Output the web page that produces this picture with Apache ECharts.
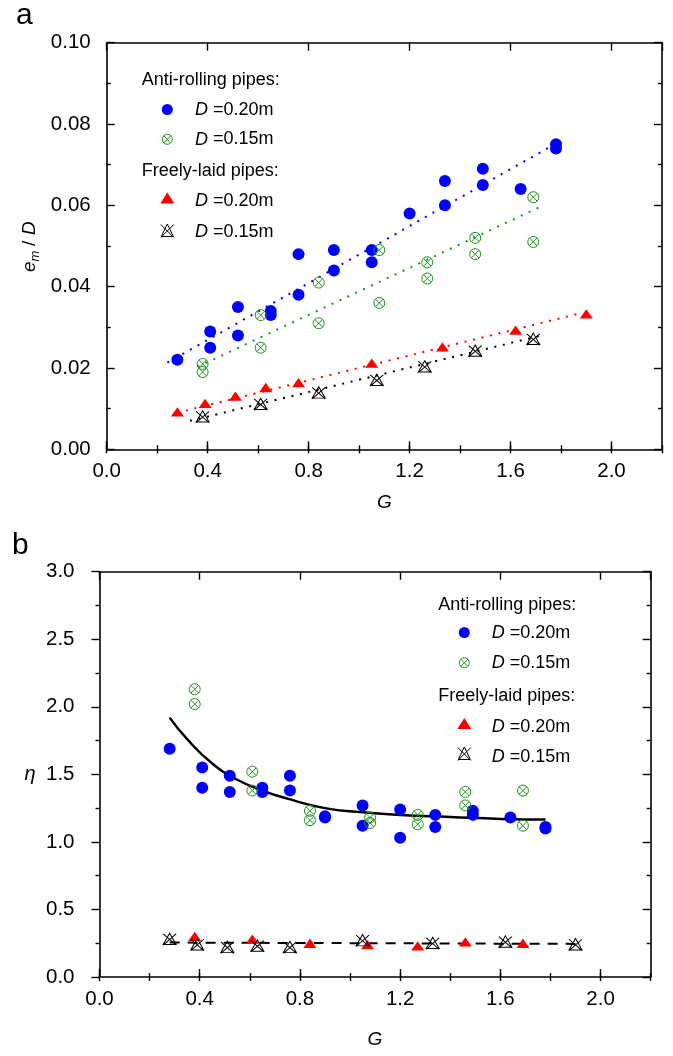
<!DOCTYPE html>
<html><head><meta charset="utf-8">
<script src="https://cdn.jsdelivr.net/npm/echarts@6/dist/echarts.min.js"></script>
<style>html,body{margin:0;padding:0;background:#fff}#c{width:673px;height:1056px}</style>
</head><body><div id="c"></div>
<script>
// ---------- DATA ----------
// Panel a: e_m / D versus G
const aAntiD20 = [[0.28,0.022],[0.41,0.029],[0.41,0.025],[0.52,0.035],[0.52,0.028],[0.65,0.034],[0.65,0.033],[0.76,0.048],[0.76,0.038],[0.90,0.049],[0.90,0.044],[1.05,0.049],[1.05,0.046],[1.20,0.058],[1.34,0.066],[1.34,0.060],[1.49,0.069],[1.49,0.065],[1.64,0.064],[1.78,0.075],[1.78,0.074]];
const aAntiD15 = [[0.38,0.021],[0.38,0.019],[0.61,0.033],[0.61,0.025],[0.84,0.041],[0.84,0.031],[1.08,0.049],[1.08,0.036],[1.27,0.046],[1.27,0.042],[1.46,0.052],[1.46,0.048],[1.69,0.062],[1.69,0.051]];
const aFreeD20 = [[0.28,0.0092],[0.39,0.0113],[0.51,0.0131],[0.63,0.0152],[0.76,0.0164],[1.05,0.0212],[1.33,0.0252],[1.62,0.0293],[1.90,0.0333]];
const aFreeD15 = [[0.38,0.0080],[0.61,0.0111],[0.84,0.0139],[1.07,0.0170],[1.26,0.0203],[1.46,0.0242],[1.69,0.0271]];
const aFitAntiD20 = [[0.24,0.0213],[1.78,0.0752]];
const aFitAntiD15 = [[0.36,0.0203],[1.72,0.0597]];
const aFitFreeD20 = [[0.28,0.0090],[1.88,0.0335]];
const aFitFreeD15 = [[0.33,0.0070],[1.73,0.0281]];
// Panel b: eta versus G
const bAntiD20 = [[0.28,1.69],[0.41,1.55],[0.41,1.40],[0.52,1.49],[0.52,1.37],[0.65,1.40],[0.65,1.37],[0.76,1.49],[0.76,1.38],[0.90,1.19],[0.90,1.18],[1.05,1.27],[1.05,1.12],[1.20,1.24],[1.20,1.03],[1.34,1.20],[1.34,1.11],[1.49,1.23],[1.49,1.20],[1.64,1.18],[1.78,1.11],[1.78,1.10]];
const bAntiD15 = [[0.38,2.13],[0.38,2.02],[0.61,1.52],[0.61,1.38],[0.84,1.23],[0.84,1.16],[1.08,1.18],[1.08,1.14],[1.27,1.20],[1.27,1.13],[1.46,1.37],[1.46,1.27],[1.69,1.38],[1.69,1.12]];
const bFreeD20 = [[0.38,0.30],[0.61,0.28],[0.84,0.25],[1.07,0.24],[1.27,0.23],[1.46,0.26],[1.69,0.25]];
const bFreeD15 = [[0.28,0.28],[0.39,0.24],[0.51,0.22],[0.63,0.23],[0.76,0.22],[1.05,0.27],[1.33,0.25],[1.62,0.26],[1.90,0.24]];
const bFitAnti = [[0.28,1.92],[0.35,1.76],[0.45,1.58],[0.55,1.46],[0.65,1.38],[0.75,1.32],[0.90,1.25],[1.05,1.22],[1.20,1.20],[1.40,1.185],[1.60,1.17],[1.78,1.165]];
const bFitFree = [[0.28,0.255],[1.90,0.245]];
// Tick labels
const xTickLabels = ['0.0','0.4','0.8','1.2','1.6','2.0'];
const aYTickLabels = ['0.00','0.02','0.04','0.06','0.08','0.10'];
const bYTickLabels = ['0.0','0.5','1.0','1.5','2.0','2.5','3.0'];
// Legend texts
const groupTitles = ['Anti-rolling pipes:', 'Freely-laid pipes:'];
const sizeLabels = ['0.20m', '0.15m'];

// ---------- STYLE ----------
const FONT = '"Liberation Sans", Arial, sans-serif';
const BLUE = '#0000ff', GREEN = '#1b931b', RED = '#ff0000', BLACK = '#000000';
const crossCircle = 'path://M10,0A10,10,0,1,1,10,20A10,10,0,1,1,10,0ZM2.93,2.93L17.07,17.07M17.07,2.93L2.93,17.07';
const crossTri = 'path://M10,1L19,18L1,18ZM1,2L19,19M19,2L1,19';
const tri = 'path://M6.5,0L13,11L0,11Z';

const chart = echarts.init(document.getElementById('c'), null, {renderer: 'canvas'});

const G0 = {left: 106.7, top: 42.7, width: 555.3, height: 406.6};
const G1 = {left: 99.5, top: 571.7, width: 551.2, height: 405.3};

function xAxisSet(gridIndex, ticksInside, showLabels) {
  const base = {type: 'value', gridIndex, min: 0, max: 2.2, splitLine: {show: false}, axisLine: {onZero: false, lineStyle: {color: BLACK, width: 1.6}}};
  const lbl = {show: showLabels, fontSize: 20.5, fontFamily: FONT, color: BLACK, margin: 12,
    formatter: v => { const s = v.toFixed(1); return xTickLabels.indexOf(s) >= 0 ? s : ''; }, showMaxLabel: false};
  return [
    Object.assign({}, base, {position: 'bottom', interval: 0.4, axisTick: {inside: ticksInside, length: 8, lineStyle: {color: BLACK, width: 1.4}}, axisLabel: lbl}),
    Object.assign({}, base, {position: 'bottom', interval: 0.2, axisLine: {show: false}, axisTick: {inside: ticksInside, length: 4, lineStyle: {color: BLACK, width: 1.4}}, axisLabel: {show: false}}),
    Object.assign({}, base, {position: 'top', interval: 0.4, axisTick: {inside: ticksInside, length: 8, lineStyle: {color: BLACK, width: 1.4}}, axisLabel: {show: false}}),
    Object.assign({}, base, {position: 'top', interval: 0.2, axisLine: {show: false}, axisTick: {inside: ticksInside, length: 4, lineStyle: {color: BLACK, width: 1.4}}, axisLabel: {show: false}})
  ];
}
function yAxisSet(gridIndex, min, max, interval, labels, digits, leftInside, margin) {
  const base = {type: 'value', gridIndex, min, max, interval, splitLine: {show: false}, axisLine: {show: true, onZero: false, lineStyle: {color: BLACK, width: 1.6}}};
  return [
    Object.assign({}, base, {position: 'left', axisTick: {inside: leftInside, length: 8, lineStyle: {color: BLACK, width: 1.4}},
      minorTick: {show: true, splitNumber: 2, length: 4, lineStyle: {color: BLACK, width: 1.4}},
      axisLabel: {fontSize: 20.5, fontFamily: FONT, color: BLACK, margin, formatter: v => { const s = v.toFixed(digits); return labels.indexOf(s) >= 0 ? s : ''; }}}),
    Object.assign({}, base, {position: 'right', axisTick: {inside: true, length: 8, lineStyle: {color: BLACK, width: 1.4}},
      minorTick: {show: true, splitNumber: 2, length: 4, lineStyle: {color: BLACK, width: 1.4}}, axisLabel: {show: false}})
  ];
}
const xAxes = xAxisSet(0, true, true).concat(xAxisSet(1, true, true));
const yAxes = yAxisSet(0, 0, 0.1, 0.02, aYTickLabels, 2, true, 16).concat(yAxisSet(1, 0, 3, 0.5, bYTickLabels, 1, false, 25));

function scatter(name, data, xi, yi, symbol, size, color, stroke) {
  return {name, type: 'scatter', data, xAxisIndex: xi, yAxisIndex: yi, symbol, symbolSize: size, symbolKeepAspect: true, z: 5,
    itemStyle: stroke ? {color: 'rgba(0,0,0,0)', borderColor: color, borderWidth: 1, opacity: 1} : {color, opacity: 1},
    emphasis: {disabled: true}};
}
function line(data, xi, yi, color, type, width, smooth) {
  return {type: 'line', data, xAxisIndex: xi, yAxisIndex: yi, showSymbol: false, symbol: 'none', smooth: smooth || false, z: 3,
    lineStyle: {color, type, width, cap: 'butt'}, emphasis: {disabled: true}, silent: true};
}

const series = [
  line(aFitAntiD20, 0, 0, BLUE, [2, 6.7], 2),
  line(aFitAntiD15, 0, 0, GREEN, [2, 6.7], 2),
  line(aFitFreeD20, 0, 0, RED, [2, 6.7], 2),
  line(aFitFreeD15, 0, 0, BLACK, [2, 6.7], 2),
  scatter('aA20', aAntiD20, 0, 0, 'circle', 12, BLUE, false),
  scatter('aA15', aAntiD15, 0, 0, crossCircle, 11, GREEN, true),
  scatter('aF20', aFreeD20, 0, 0, tri, [13, 11], RED, false),
  scatter('aF15', aFreeD15, 0, 0, crossTri, [13, 12], BLACK, true),
  line(bFitAnti, 4, 2, BLACK, 'solid', 2.5, 0.5),
  line(bFitFree, 4, 2, BLACK, [10, 8], 2),
  scatter('bA20', bAntiD20, 4, 2, 'circle', 12, BLUE, false),
  scatter('bA15', bAntiD15, 4, 2, crossCircle, 11, GREEN, true),
  scatter('bF20', bFreeD20, 4, 2, tri, [13, 11], RED, false),
  scatter('bF15', bFreeD15, 4, 2, crossTri, [13, 12], BLACK, true)
];

// ---------- legend (drawn as graphic elements) ----------
function txt(x, y, text, font, align) {
  return {type: 'text', x, y, silent: true, style: {text, font, fill: BLACK, align: align || 'left', verticalAlign: 'middle'}};
}
function richTxt(x, y, text) {
  return {type: 'text', x, y, silent: true, style: {text, font: '18px ' + FONT, fill: BLACK, align: 'left', verticalAlign: 'middle',
    rich: {i: {fontStyle: 'italic', fontSize: 18, fontFamily: FONT, fill: BLACK}}}};
}
function iconCircle(cx, cy) { return {type: 'circle', silent: true, shape: {cx, cy, r: 5.5}, style: {fill: BLUE}}; }
function iconCrossCircle(cx, cy) {
  const d = 3.6;
  return {type: 'group', silent: true, children: [
    {type: 'circle', shape: {cx, cy, r: 5}, style: {fill: 'none', stroke: GREEN, lineWidth: 1}},
    {type: 'line', shape: {x1: cx - d, y1: cy - d, x2: cx + d, y2: cy + d}, style: {stroke: GREEN, lineWidth: 1}},
    {type: 'line', shape: {x1: cx + d, y1: cy - d, x2: cx - d, y2: cy + d}, style: {stroke: GREEN, lineWidth: 1}}]};
}
function iconTri(cx, cy) { return {type: 'polygon', silent: true, shape: {points: [[cx - 7, cy + 5.5], [cx, cy - 5.5], [cx + 7, cy + 5.5]]}, style: {fill: RED}}; }
function iconCrossTri(cx, cy) {
  return {type: 'group', silent: true, children: [
    {type: 'polygon', shape: {points: [[cx - 6, cy + 6], [cx, cy - 6.5], [cx + 6, cy + 6]]}, style: {fill: 'none', stroke: BLACK, lineWidth: 1}},
    {type: 'line', shape: {x1: cx - 6.5, y1: cy - 6, x2: cx + 6.5, y2: cy + 7}, style: {stroke: BLACK, lineWidth: 1}},
    {type: 'line', shape: {x1: cx + 6.5, y1: cy - 6, x2: cx - 6.5, y2: cy + 7}, style: {stroke: BLACK, lineWidth: 1}}]};
}
function legendBlock(hx, ix, tx, ys) {
  // ys: [title1, item1icon, item1text, item2icon, item2text, title2, item3icon, item3text, item4icon, item4text]
  return [
    txt(hx, ys[0], groupTitles[0], '18px ' + FONT),
    iconCircle(ix, ys[1]), richTxt(tx, ys[2], '{i|D} =' + sizeLabels[0]),
    iconCrossCircle(ix, ys[3]), richTxt(tx, ys[4], '{i|D} =' + sizeLabels[1]),
    txt(hx, ys[5], groupTitles[1], '18px ' + FONT),
    iconTri(ix, ys[6]), richTxt(tx, ys[7], '{i|D} =' + sizeLabels[0]),
    iconCrossTri(ix, ys[8]), richTxt(tx, ys[9], '{i|D} =' + sizeLabels[1])
  ];
}

const graphic = [
  txt(16, 16, 'a', '30px ' + FONT),
  txt(12, 546, 'b', '30px ' + FONT),
  txt(384.4, 503, 'G', 'italic 19px ' + FONT, 'center'),
  txt(375, 1040, 'G', 'italic 19px ' + FONT, 'center'),
  txt(30, 774, 'η', 'italic 20px ' + FONT, 'center'),
  {type: 'group', x: 30, y: 246, rotation: Math.PI / 2, silent: true, children: [
    txt(-26, 0, 'e', 'italic 19px ' + FONT),
    txt(-15.5, 5, 'm', 'italic 13px ' + FONT),
    txt(0, 0, '/', '19px ' + FONT),
    txt(11, 0, 'D', 'italic 19px ' + FONT)
  ]}
].concat(
  legendBlock(141.7, 167.3, 195, [80.5, 109.5, 110, 139.3, 139.5, 171.5, 198, 201, 230.5, 231.7]),
  legendBlock(438.3, 464.3, 491.7, [605.5, 632.5, 633.3, 662.8, 663.3, 695.7, 723.5, 727, 753.5, 756.7])
);

chart.setOption({
  animation: false,
  backgroundColor: '#ffffff',
  grid: [Object.assign({outerBoundsMode: 'none'}, G0), Object.assign({outerBoundsMode: 'none'}, G1)],
  xAxis: xAxes,
  yAxis: yAxes,
  graphic,
  series
});
</script></body></html>
